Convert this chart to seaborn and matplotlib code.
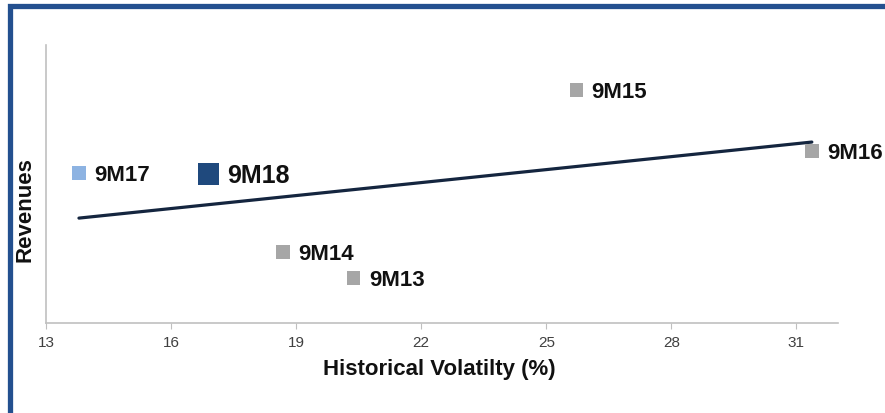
import pandas as pd
import seaborn as sns
import matplotlib.pyplot as plt
from matplotlib.patches import Rectangle

# datos (eje Y sin escala, unidades relativas)
periodos = ["9M13", "9M14", "9M15", "9M16", "9M17", "9M18"]
volatilidad = [20.38, 18.68, 25.72, 31.37, 13.79, 16.9]
ingresos = [16.2, 25.5, 83.8, 61.9, 54.0, 53.6]
xticks = [13, 16, 19, 22, 25, 28, 31]

df = pd.DataFrame({"periodo": periodos, "vol": volatilidad, "rev": ingresos})

colores = {"9M13": "#a6a6a6", "9M14": "#a6a6a6", "9M15": "#a6a6a6",
           "9M16": "#a6a6a6", "9M17": "#8db3e2", "9M18": "#1f497d"}
tamanos = {p: 95 for p in periodos}
tamanos["9M17"] = 105
tamanos["9M18"] = 230

sns.set_style("white")
plt.rcParams['font.family'] = ['Liberation Sans', 'DejaVu Sans']

fig = plt.figure(figsize=(8.85, 4.14), dpi=100)
ax = fig.add_axes([0.052, 0.2174, 0.895, 0.6715])

# linea de tendencia (regresion lineal)
sns.regplot(data=df, x="vol", y="rev", scatter=False, ci=None, ax=ax,
            line_kws={"color": "#14253f", "lw": 2.3})

sns.scatterplot(data=df, x="vol", y="rev", hue="periodo", palette=colores,
                size="periodo", sizes=tamanos, marker="s", linewidth=0,
                legend=False, ax=ax, zorder=3)

for p, x, y in zip(periodos, volatilidad, ingresos):
    big = p == "9M18"
    ax.annotate(p, (x, y), xytext=(13 if big else 11, -1), textcoords="offset points",
                va="center", ha="left", fontsize=18 if big else 16,
                fontweight="bold", color="#111111", annotation_clip=False)

ax.set_xlim(13, 32)
ax.set_ylim(0, 100)
ax.set_xticks(xticks)
ax.set_yticks([])
ax.tick_params(axis="x", length=4, color="#bfbfbf", labelsize=11,
               labelcolor="#404040", pad=5, bottom=True)
for s in ["top", "right"]:
    ax.spines[s].set_visible(False)
for s in ["left", "bottom"]:
    ax.spines[s].set_color("#c0c0c0")
    ax.spines[s].set_linewidth(1.2)

ax.set_xlabel("Historical Volatilty (%)", fontsize=16, fontweight="bold", color="#111111")
ax.set_ylabel("Revenues", fontsize=16, fontweight="bold", color="#111111")
ax.xaxis.set_label_coords(0.497, -0.126)
ax.yaxis.set_label_coords(-0.013, 0.41)

# marco azul exterior
fig.patches.append(Rectangle((10 / 885, -0.05), 1.1, 1 - 6.5 / 414 + 0.05,
                             transform=fig.transFigure, fill=False,
                             edgecolor="#23508f", lw=3.8))

plt.savefig("out.png", dpi=100)
